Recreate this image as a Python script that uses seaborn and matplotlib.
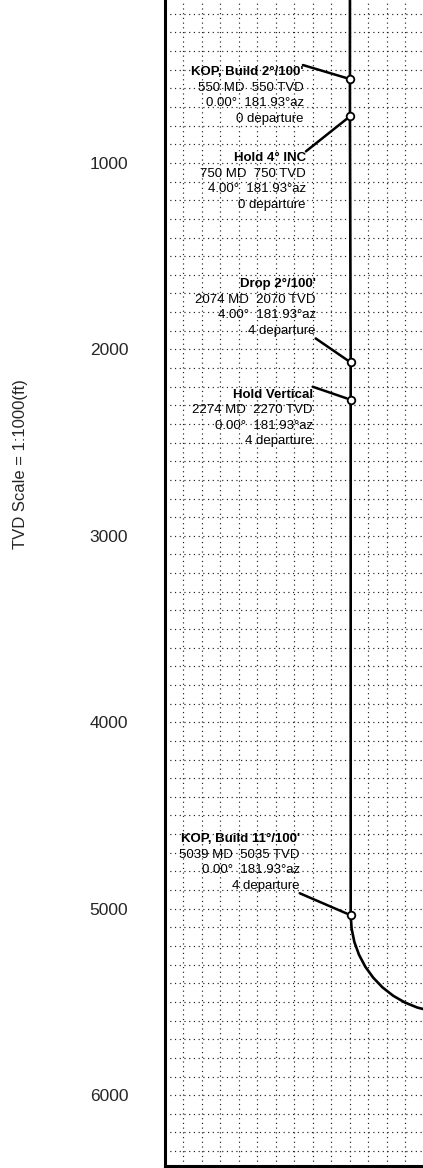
import matplotlib
matplotlib.use("Agg")
import matplotlib.pyplot as plt
import seaborn as sns
from matplotlib.ticker import MultipleLocator

# well plan points (labelled stations)
point_names = ["KOP, Build 2°/100'", "Hold 4° INC", "Drop 2°/100'", "Hold Vertical", "KOP, Build 11°/100'"]
point_md = [550, 750, 2074, 2274, 5039]
point_tvd = [550, 750, 2070, 2270, 5035]
point_inc = [0.00, 4.00, 4.00, 0.00, 0.00]
point_az = [181.93, 181.93, 181.93, 181.93, 181.93]
point_dep = [0, 0, 4, 4, 4]

# well path (departure ft, TVD ft)
path_dep = [0, 0, 0, 4, 4, 4, 9, 24, 49, 83, 126, 176, 234, 297, 364, 435]
path_tvd = [0, 550, 750, 2070, 2270, 5035, 5107, 5179, 5247, 5311, 5370, 5422, 5467, 5503, 5530, 5548]

tvd_ticks = [1000, 2000, 3000, 4000, 5000, 6000]

sns.set_style("white")
plt.rcParams['font.family'] = ['Liberation Sans', 'DejaVu Sans']

fig = plt.figure(figsize=(4.23, 11.68), dpi=100)
ax = fig.add_axes([165 / 423, 2 / 1168, 258 / 423, 1166 / 1168])

# dotted 100 ft grid
ax.xaxis.set_minor_locator(MultipleLocator(100))
ax.yaxis.set_minor_locator(MultipleLocator(100))
ax.set_xticks([])
ax.grid(which='both', color='#222222', linestyle=(0, (1, 3)), linewidth=0.85)

sns.lineplot(x=path_dep, y=path_tvd, sort=False, estimator=None, color='black',
             linewidth=1.9, ax=ax, zorder=3)
sns.scatterplot(x=point_dep, y=point_tvd, marker='o', s=30, facecolor='white',
                edgecolor='black', linewidth=1.3, ax=ax, zorder=5)

# label layout: text right edge / title offset and leader start (pixels from marker)
text_off = [(-46, 7), (-44, -42), (-35, 78), (-38, 5), (-51, 76)]
lead_off = [(-47, 14), (-44, -35), (-35, 24), (-38, 13), (-51, 22)]
line_gap = 15.5

for i in range(len(point_names)):
    lines = [point_names[i],
             f"{point_md[i]} MD  {point_tvd[i]} TVD",
             f"{point_inc[i]:.2f}°  {point_az[i]:.2f}°az",
             f"{point_dep[i]} departure"]
    xy = (point_dep[i], point_tvd[i])
    ax.annotate('', xy=xy, xytext=lead_off[i], textcoords='offset pixels',
                arrowprops=dict(arrowstyle='-', color='black', lw=1.8, shrinkA=0, shrinkB=3),
                zorder=4)
    for j, line in enumerate(lines):
        ax.annotate(line, xy=xy, xytext=(text_off[i][0], text_off[i][1] - j * line_gap),
                    textcoords='offset pixels', ha='right', va='center', fontsize=9.5,
                    fontweight='bold' if j == 0 else 'normal', color='black')

ax.set_xlim(-1000, 395)
ax.set_ylim(6380, 126)
ax.set_yticks(tvd_ticks)
ax.set_yticklabels([str(t) for t in tvd_ticks])
ax.tick_params(axis='y', which='major', length=0, pad=26.5, labelsize=12.5)
ax.tick_params(which='minor', length=0)
ax.set_xlabel("")
ax.set_ylabel("")

sns.despine(ax=ax, top=True, right=True)
ax.spines['left'].set_linewidth(2.2)
ax.spines['bottom'].set_linewidth(2.2)
ax.spines['left'].set_color('black')
ax.spines['bottom'].set_color('black')

fig.text(20 / 423, 1 - 464 / 1168, "TVD Scale = 1:1000(ft)", rotation=90,
         ha='center', va='center', fontsize=12)

fig.savefig("out.png", dpi=100)
